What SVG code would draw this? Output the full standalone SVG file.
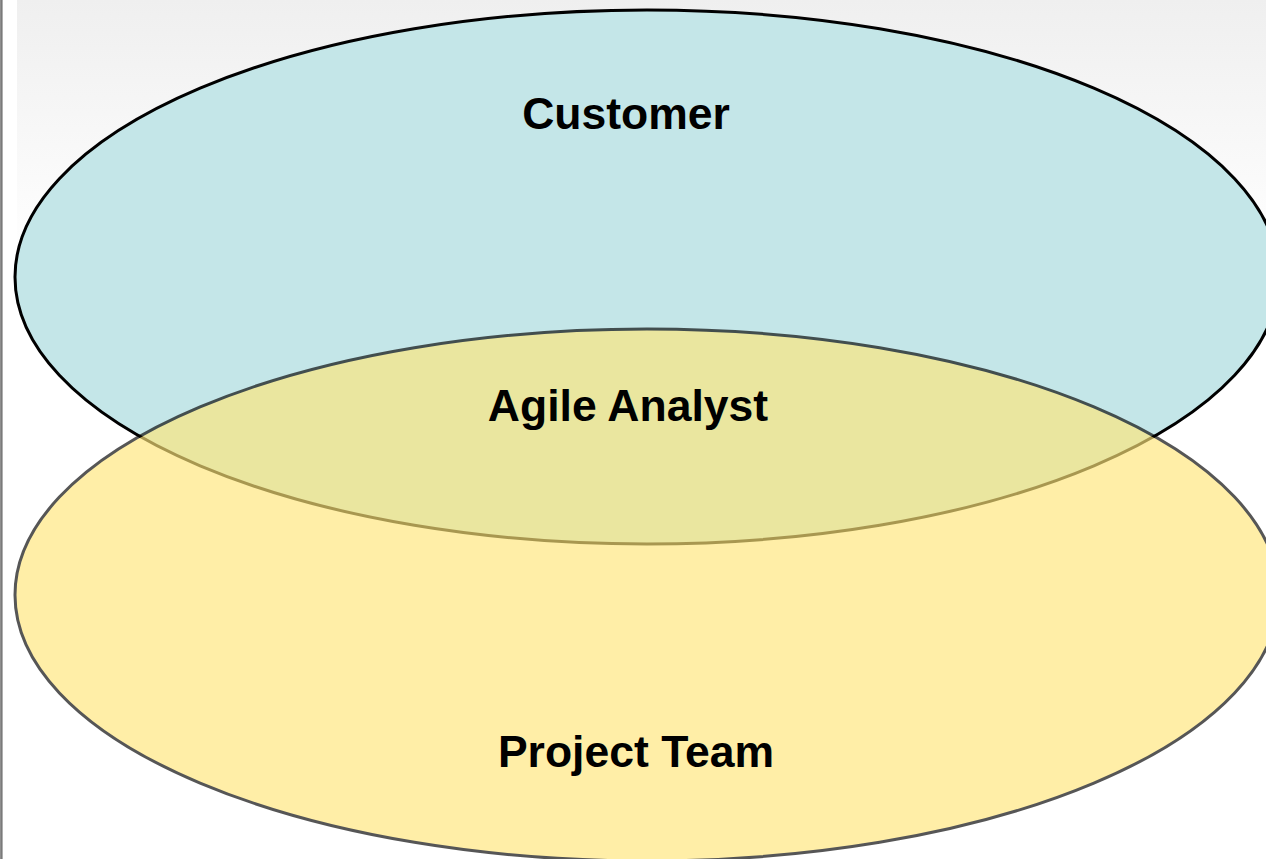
<svg xmlns="http://www.w3.org/2000/svg" width="1266" height="859" viewBox="0 0 1266 859">
  <defs>
    <linearGradient id="bgFade" x1="0" y1="0" x2="0" y2="1" gradientUnits="objectBoundingBox">
      <stop offset="0" stop-color="#efefef"/>
      <stop offset="0.3" stop-color="#ffffff"/>
      <stop offset="1" stop-color="#ffffff"/>
    </linearGradient>
    <linearGradient id="edgeBar" x1="0" y1="0" x2="1" y2="0">
      <stop offset="0" stop-color="#9a9a9a"/>
      <stop offset="0.5" stop-color="#7a7a7a"/>
      <stop offset="1" stop-color="#c8c8c8"/>
    </linearGradient>
  </defs>
  <style>
    .label { font-family: "Liberation Sans", Arial, sans-serif; font-weight: bold; font-size: 44.5px; fill: #000000; text-anchor: middle; }
    .set { stroke: #000000; stroke-width: 3; }
  </style>

  <!-- page background -->
  <rect x="0" y="0" width="1266" height="859" fill="#ffffff"/>
  <rect x="17" y="0" width="1249" height="859" fill="url(#bgFade)"/>
  <rect x="0" y="0" width="3" height="859" fill="url(#edgeBar)"/>

  <!-- upper set -->
  <g id="customer">
    <ellipse class="set" cx="647" cy="277" rx="632" ry="267" fill="#c4e6e8"/>
    <text class="label" x="626" y="129">Customer</text>
  </g>

  <!-- lower set, translucent so the overlap shows through -->
  <g id="project-team">
    <ellipse class="set" cx="647" cy="595" rx="632" ry="266" fill="#ffe67a" opacity="0.66"/>
    <text class="label" x="636" y="767">Project Team</text>
  </g>

  <!-- overlap label -->
  <g id="agile-analyst">
    <text class="label" x="628" y="421">Agile Analyst</text>
  </g>

  <g id="connectors"/>
</svg>
